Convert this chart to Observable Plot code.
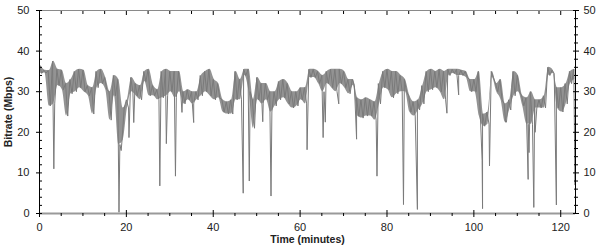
<!DOCTYPE html>
<html>
<head>
<meta charset="utf-8">
<script src="https://cdn.jsdelivr.net/npm/d3@7"></script>
<script src="https://cdn.jsdelivr.net/npm/@observablehq/plot@0.6"></script>
<style>
  html, body { margin: 0; padding: 0; background: #fff; }
  #chart { width: 600px; height: 250px; }
</style>
</head>
<body>
<div id="chart"></div>
<script>
// Per-minute envelope of the bitrate trace (Mbps): upper and lower edge of the noisy band
const hi = [
  36.5,35.3,35.2,37.5,35.5,35.3,32,33,35,35.5,
  35.3,31.5,31,35,35.5,33.5,30,34,33,18,
  28,33.5,32,31.5,35,35.5,31.5,30.5,35,35.5,
  35,35,35,30,30.5,30,30,34,35,35.5,
  33,32,28,27.5,28,35,33,35.5,35.5,28,
  33.5,32,32,30,30,32.5,33,32,30,30,
  31,31,35.5,35.5,35,34,35,35.5,35.5,35.5,
  35,33,33,28.5,28,28.5,28,27.5,32,35,
  35.5,35,35,34,33,29,27.5,28,31.5,35,
  35.5,35,35.5,35,35.5,35.5,35.5,35.3,35,33,
  33,35,24.5,25,35,32,33,27,28,35,
  34,29,28.5,30,28,28,29,36,35.3,31,
  31,32,35,35.5
];
const lo = [
  34.5,34.6,26.5,27,31.5,30.5,24,29.5,30,31,
  30,29,24.5,31,32,30.5,23,29,17,26,
  26,30,29,28,32.5,29,29,28,28.5,29,
  30,28.5,30,27,28,27,28,29,30,29,
  28,28.5,25,24.5,24.5,28,28,34,30,21,
  28,27,28,25,26.5,28,28.5,27,26,26.5,
  28,27,33.5,33.5,32,30,32,31,30,32,
  31,29.5,31.5,24,23.5,24,24,23,27,31,
  30.5,28.5,29.5,30,30,25,24,25.5,27,30,
  30.5,31,30,28,34,34.5,34,34,33.5,30,
  30,24,21.5,22,33.5,30,28,22.5,25.5,29,
  30,26.5,22,22,26,26,26,34,34.5,26,
  25,27,32,33
];
// Isolated dips / sharp excursions: [time (min), bitrate (Mbps)]
const dips = [
  [0,4.5],[3.3,11],[18.3,0.3],[18.8,15.5],[20.6,18.7],[21.7,22.4],[27.7,6.8],
  [29.2,17.2],[31.3,9.2],[32.8,24.9],[35.5,22.4],[46.9,5.0],[48.3,8.0],
  [51.4,22.6],[53.3,4.3],[61.6,15.7],[65.3,18.7],[65.8,22.5],[68.9,27],
  [73.0,18.3],[77.7,9.2],[83.8,2.2],[87.0,1.0],[93.8,24.7],[96.5,29.2],
  [101.9,13],[102.0,1.2],[103.6,11.7],[107.3,22.5],[112.5,8.4],[112.7,15],
  [113.8,1.5],[114.1,20],[119.0,2.1],[123.3,7]
];
const timeEnd = 123.4;
const xMajor = [0,20,40,60,80,100,120];
const xMinor = [5,10,15,25,30,35,45,50,55,65,70,75,85,90,95,105,110,115];
const yMajor = [0,10,20,30,40,50];
const yMinor = [2,4,6,8,12,14,16,18,22,24,26,28,32,34,36,38,42,44,46,48];

const minutes = d3.range(hi.length);
const band = minutes.map(i => ({t: i + 0.25, y1: Math.min(hi[i], lo[i]), y2: Math.max(hi[i], lo[i])}));
const trace = [
  ...dips.map(([t, v]) => ({t, v})),
  ...minutes.flatMap(i => [{t: i, v: hi[i]}, {t: i + 0.5, v: lo[i]}])
].sort((a, b) => a.t - b.t);

const chart = Plot.plot({
  width: 600,
  height: 250,
  marginLeft: 39,
  marginRight: 25,
  marginTop: 10,
  marginBottom: 37,
  style: {fontFamily: "'Liberation Sans', Arial, sans-serif", fontSize: "11px", color: "#222", background: "#fff"},
  x: {domain: [0, timeEnd], axis: null},
  y: {domain: [0, 50], axis: null},
  marks: [
    Plot.areaY(band, {x: "t", y1: "y1", y2: "y2", fill: "#939393", curve: "monotone-x", clip: true}),
    Plot.line(trace, {x: "t", y: "v", stroke: "#7a7a7a", strokeWidth: 1, clip: true}),
    Plot.ruleY([0], {stroke: "#9a9a9a", strokeWidth: 2}),
    Plot.ruleY([50], {stroke: "#8a8a8a", strokeWidth: 1}),
    Plot.ruleX([0], {stroke: "#000"}),
    Plot.ruleX([timeEnd], {stroke: "#000"}),
    // left axis
    Plot.axisY({anchor: "left", ticks: yMajor, tickSize: 0, tickPadding: 10, label: null}),
    Plot.axisY({anchor: "left", ticks: yMajor, tickSize: 6, dx: 3, fill: "none", stroke: "#000"}),
    Plot.axisY({anchor: "left", ticks: yMinor, tickSize: -3, fill: "none", stroke: "#000"}),
    // right axis
    Plot.axisY({anchor: "right", ticks: yMajor, tickSize: 0, tickPadding: 8, label: null}),
    Plot.axisY({anchor: "right", ticks: yMajor, tickSize: 6, dx: -3, fill: "none", stroke: "#000"}),
    Plot.axisY({anchor: "right", ticks: yMinor, tickSize: 4, dx: -2, fill: "none", stroke: "#000"}),
    // bottom axis
    Plot.axisX({anchor: "bottom", ticks: xMajor, tickSize: 0, tickPadding: 10, label: null}),
    Plot.axisX({anchor: "bottom", ticks: xMajor, tickSize: 7, dy: -3, fill: "none", stroke: "#000"}),
    Plot.axisX({anchor: "bottom", ticks: xMinor, tickSize: 3, fill: "none", stroke: "#000"}),
    // top axis
    Plot.axisX({anchor: "top", ticks: xMajor, tickSize: -4, fill: "none", stroke: "#000"}),
    Plot.axisX({anchor: "top", ticks: xMinor, tickSize: -3, fill: "none", stroke: "#000"}),
    // axis titles
    Plot.text(["Time (minutes)"], {text: d => d, frameAnchor: "bottom", dy: 29, textAnchor: "middle", fontWeight: "bold", fontSize: 10.5, fill: "#222"}),
    Plot.text(["Bitrate (Mbps)"], {text: d => d, frameAnchor: "left", dx: -31, rotate: -90, textAnchor: "middle", fontWeight: "bold", fontSize: 10.5, fill: "#222"})
  ]
});
document.getElementById("chart").appendChild(chart);
</script>
</body>
</html>
